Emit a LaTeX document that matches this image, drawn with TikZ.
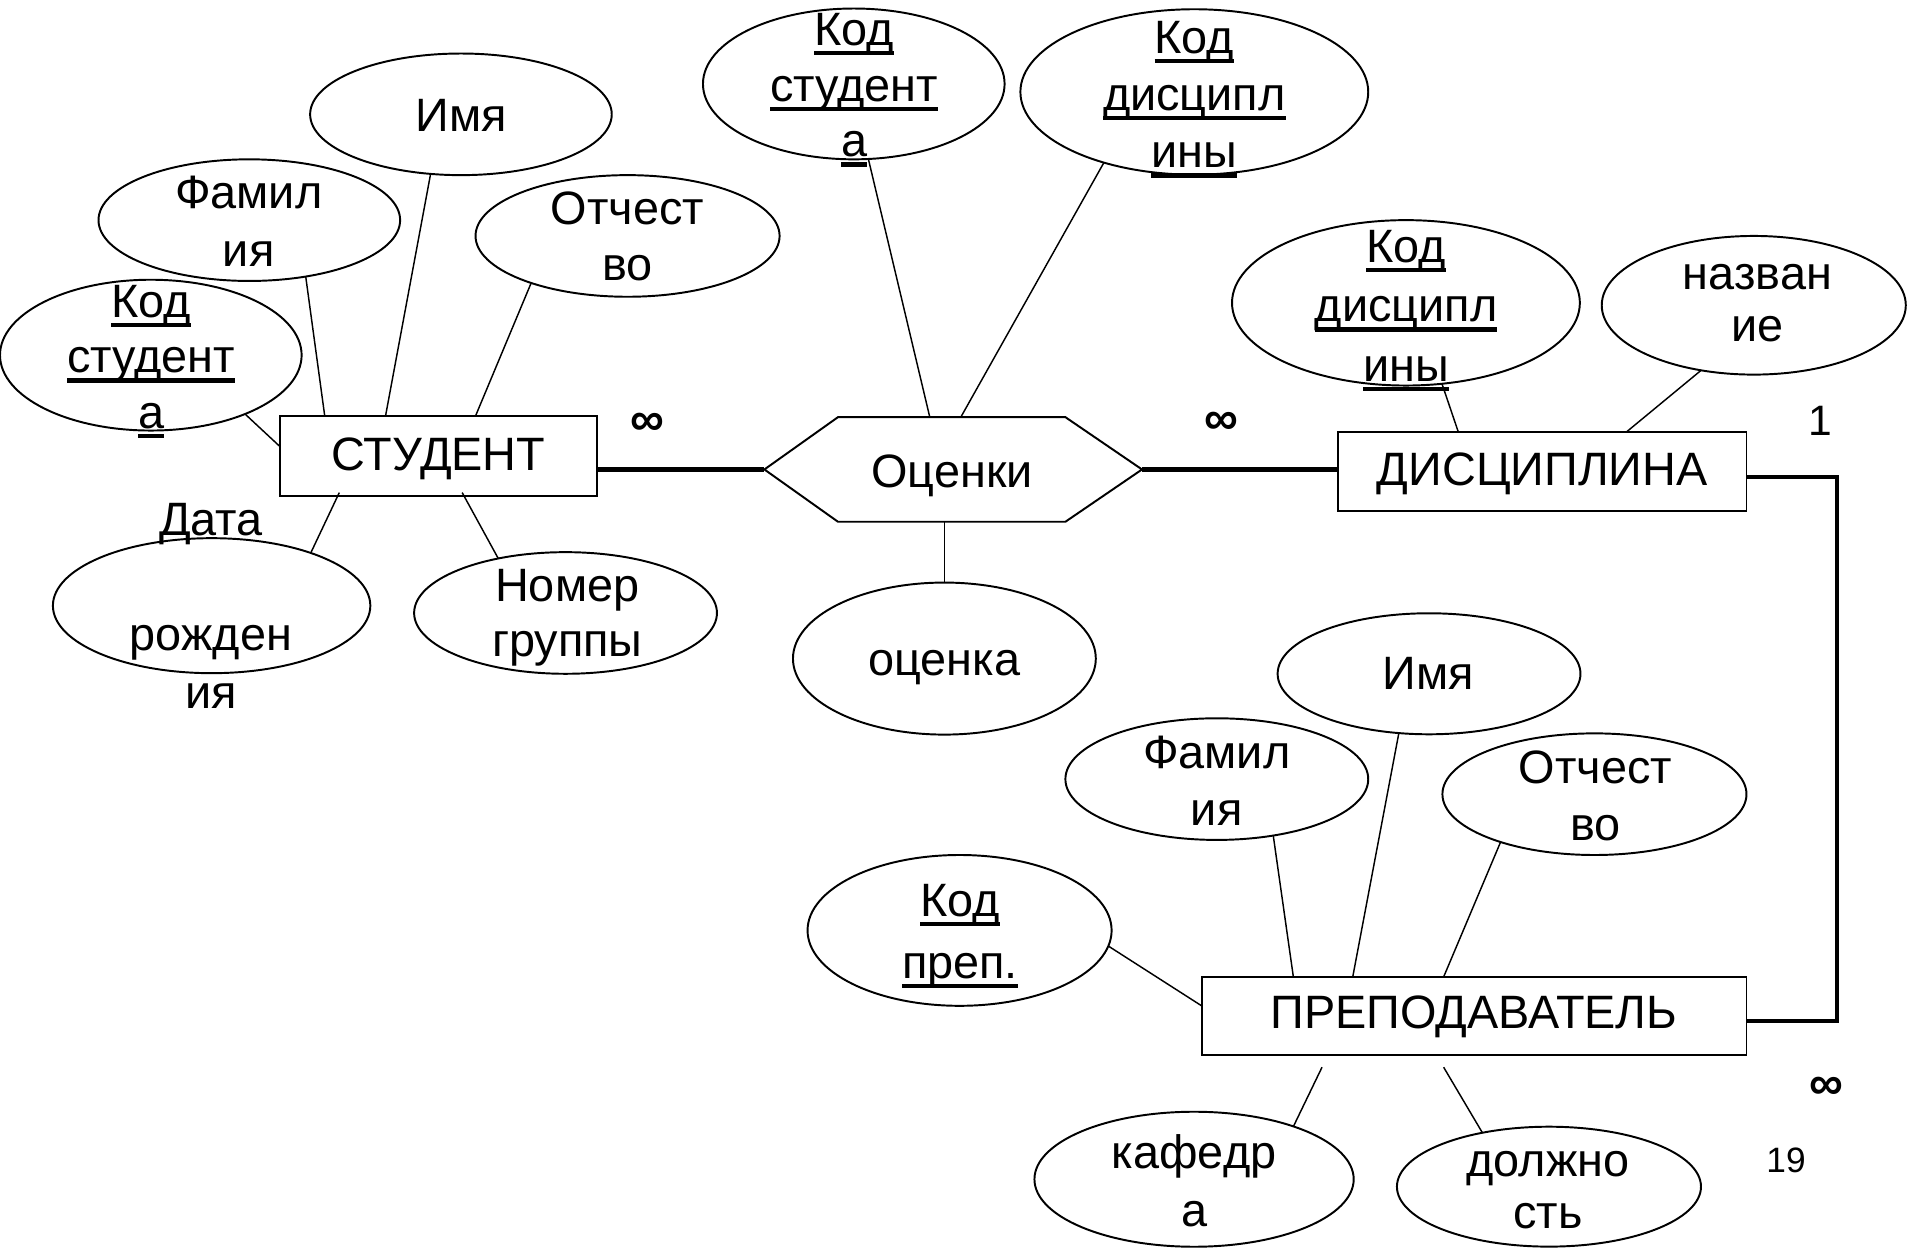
\documentclass[tikz,border=0pt]{standalone}
\usepackage{fontspec}
\setmainfont{Liberation Sans}
\usetikzlibrary{shapes.geometric}

% text sizes
\newcommand\attrfont{\fontsize{38.5pt}{47pt}\selectfont}
\newcommand\cardfont{\fontsize{35pt}{40pt}\selectfont}
\newcommand\pagefont{\fontsize{29pt}{34pt}\selectfont}
\newcommand\inffont{\fontsize{39pt}{44pt}\selectfont\bfseries}
% centred stack of lines; baseline of the block = baseline of its first line
\newcommand\lns[2]{\vtop{\baselineskip=#1\lineskiplimit=-\maxdimen
  \halign{\hfil##\hfil\cr#2\crcr}}}
% key attribute: thick underline
\newcommand\ukey[1]{\setbox0=\hbox{#1}\rlap{\vrule width\wd0 height -4.5pt depth 8pt}\box0}

\tikzset{
  attr/.style={ellipse, draw, line width=1.6pt, inner sep=0pt, outer sep=0pt},
  ent/.style={rectangle, draw, line width=1.6pt, inner sep=0pt, outer sep=0pt, font=\attrfont},
  lbl/.style={anchor=base, inner sep=0pt, outer sep=0pt, font=\attrfont},
  card/.style={inner sep=0pt, outer sep=0pt, font=\cardfont},
  many/.style={inner sep=0pt, outer sep=0pt, font=\inffont},
  link/.style={line width=1.2pt},
  rel/.style={line width=3.5pt},
  outline/.style={line width=1.6pt}
}

\begin{document}
\begin{tikzpicture}[x=1pt, y=-1pt]
\useasboundingbox (0,0) rectangle (1568,1026);

% ---------- СТУДЕНТ ----------
\node[ent, minimum width=261pt, minimum height=66pt, text height=45pt, text depth=21pt] (stud) at (360.5,375) {СТУДЕНТ};
\node[attr, minimum width=248pt, minimum height=100pt] (sImya) at (379,94) {};
\node[attr, minimum width=248pt, minimum height=100pt] (sFam) at (205,181) {};
\node[attr, minimum width=250pt, minimum height=100pt] (sOtch) at (516,194) {};
\node[attr, minimum width=248pt, minimum height=124pt] (sKod) at (124,292) {};
\node[attr, minimum width=261pt, minimum height=111pt] (sData) at (174,498) {};
\node[attr, minimum width=249pt, minimum height=100pt] (sNomer) at (465,504) {};

\node[lbl] (tsImya) at (379,108) {Имя};
\node[lbl] (tsFam) at (204.5,171.8) {\lns{47pt}{Фамил\cr ия}};
\node[lbl] (tsOtch) at (516,184.4) {\lns{46.6pt}{Отчест\cr во}};
\node[lbl] (tsKod) at (124.3,260.8) {\lns{45.8pt}{\ukey{Код}\cr \ukey{студент}\cr \ukey{а}}};
\node[lbl] (tsData) at (173.5,440) {\lns{47.5pt}{Дата\cr\cr рожден\cr ия}};
\node[lbl] (tsNomer) at (466.4,494.7) {\lns{45pt}{Номер\cr группы}};

\draw[link] (sFam.315) -- ([xshift=37pt]stud.north west);
\draw[link] (sImya.243.4) -- ([xshift=87pt]stud.north west);
\draw[link] (sOtch.206.3) -- ([xshift=161pt]stud.north west);
\draw[link] (sKod.328.3) -- ([yshift=8pt]stud.west);
\draw[link] ([xshift=49pt,yshift=3pt]stud.south west) -- (sData.28.8);
\draw[link] ([xshift=150pt,yshift=3pt]stud.south west) -- (sNomer.141.2);

% ---------- Оценки ----------
\node[inner sep=0pt, outer sep=0pt, minimum width=310.5pt, minimum height=86pt] (hex) at (783.75,386) {};
\draw[outline] (hex.west) -- ([xshift=60.5pt]hex.north west) -- ([xshift=-63pt]hex.north east)
  -- (hex.east) -- ([xshift=-63pt]hex.south east) -- ([xshift=60.5pt]hex.south west) -- cycle;
\node[lbl] (tHex) at (782.8,400.8) {Оценки};

\node[attr, minimum width=248pt, minimum height=124pt] (oKodS) at (702,69) {};
\node[attr, minimum width=286pt, minimum height=136pt] (oKodD) at (982,75.6) {};
\node[attr, minimum width=249pt, minimum height=125pt] (oOcen) at (776.5,541.5) {};

\node[lbl] (toKodS) at (702.4,37.6) {\lns{45.7pt}{\ukey{Код}\cr \ukey{студент}\cr \ukey{а}}};
\node[lbl] (toKodD) at (982,44) {\lns{47pt}{\ukey{Код}\cr \ukey{дисципл}\cr \ukey{ины}}};
\node[lbl] (toOcen) at (776.4,555) {оценка};

\draw[link] (oKodS.281.8) -- ([xshift=136pt]hex.north west);
\draw[link] (oKodD.218.8) -- ([xshift=161.5pt]hex.north west);
\draw[link] (oOcen.north) -- (oOcen.north |- hex.south);

% ---------- ДИСЦИПЛИНА ----------
\node[ent, minimum width=336pt, minimum height=65pt, text height=44pt, text depth=21pt] (disc) at (1268,387.5) {ДИСЦИПЛИНА};
\node[attr, minimum width=286pt, minimum height=136pt] (dKod) at (1156,249) {};
\node[attr, minimum width=250pt, minimum height=114pt] (dNazv) at (1442,251) {};

\node[lbl] (tdKod) at (1156.2,215.8) {\lns{48.9pt}{\ukey{Код}\cr \ukey{дисципл}\cr \ukey{ины}}};
\node[lbl] (tdNazv) at (1445,238.4) {\lns{42.6pt}{назван\cr ие}};

\draw[link] (dKod.294) -- ([xshift=99pt]disc.north west);
\draw[link] (dNazv.231) -- ([xshift=237.5pt]disc.north west);

% ---------- ПРЕПОДАВАТЕЛЬ ----------
\node[ent, minimum width=448pt, minimum height=64.5pt, text height=43pt, text depth=21.5pt] (prep) at (1212,835.25) {ПРЕПОДАВАТЕЛЬ};
\node[attr, minimum width=249pt, minimum height=99.5pt] (pImya) at (1175,554) {};
\node[attr, minimum width=249pt, minimum height=100pt] (pFam) at (1000.5,640.6) {};
\node[attr, minimum width=250pt, minimum height=100pt] (pOtch) at (1311,653) {};
\node[attr, minimum width=250pt, minimum height=124pt] (pKod) at (789,765) {};
\node[attr, minimum width=262.5pt, minimum height=111pt] (pKaf) at (981.8,969.6) {};
\node[attr, minimum width=250pt, minimum height=98.6pt] (pDol) at (1273.6,975.7) {};

\node[lbl] (tpImya) at (1174.6,567.3) {Имя};
\node[lbl] (tpFam) at (1000.4,631.7) {\lns{46.7pt}{Фамил\cr ия}};
\node[lbl] (tpOtch) at (1311.9,644) {\lns{46.7pt}{Отчест\cr во}};
\node[lbl] (tpKod) at (789.3,753.7) {\lns{50.7pt}{\ukey{Код}\cr \ukey{преп.}}};
\node[lbl] (tpKaf) at (981.8,960.6) {\lns{48pt}{кафедр\cr а}};
\node[lbl] (tpDol) at (1272.7,967.5) {\lns{42.5pt}{должно\cr сть}};

\draw[link] (pFam.315) -- ([xshift=75.4pt]prep.north west);
\draw[link] (pImya.243) -- ([xshift=124.3pt]prep.north west);
\draw[link] (pOtch.207.3) -- ([xshift=199.1pt]prep.north west);
\draw[link] (pKod.354.1) -- ([yshift=8.25pt]prep.west);
\draw[link] ([xshift=99pt,yshift=-10pt]prep.south west) -- (pKaf.28.4);
\draw[link] ([xshift=199pt,yshift=-10pt]prep.south west) -- (pDol.141.3);

% ---------- relationships ----------
\draw[rel] (stud.east |- hex.west) -- (hex.west);
\draw[rel] (hex.east) -- (hex.east -| disc.west);
\draw[rel] ([yshift=-4.5pt]disc.east) -- ++(74.5,0) |- ([yshift=-4.5pt]prep.east);

% cardinalities
\node[many] (inf1) at (532.4,348.6) {∞};
\node[many] (inf2) at (1004.5,347.8) {∞};
\node[many] (inf3) at (1501.8,894.6) {∞};
\node[card, anchor=base] (one) at (1496.5,358) {1};

% page number
\node[inner sep=0pt, outer sep=0pt, font=\pagefont, anchor=base] (pageno) at (1468.5,964.3) {19};
\end{tikzpicture}
\end{document}
